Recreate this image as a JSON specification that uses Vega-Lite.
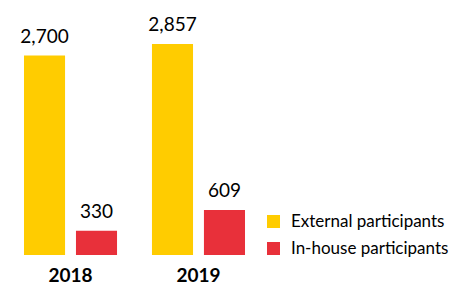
{
  "$schema": "https://vega.github.io/schema/vega-lite/v6.json",
  "autosize": "none",
  "padding": {"left": 0, "top": 0, "right": 182, "bottom": 32},
  "width": 269,
  "height": 255,
  "background": "white",
  "config": {"view": {"stroke": null}, "font": "Lato"},
  "data": {
    "values": [
      {"year": "2018", "type": "External participants", "value": 2700},
      {"year": "2018", "type": "In-house participants", "value": 330},
      {"year": "2019", "type": "External participants", "value": 2857},
      {"year": "2019", "type": "In-house participants", "value": 609}
    ]
  },
  "encoding": {
    "x": {
      "field": "year", "type": "nominal",
      "scale": {"paddingInner": 0.273, "paddingOuter": 0.1875},
      "axis": {"title": null, "domain": false, "ticks": false, "labelAngle": 0, "labelFontSize": 19, "labelFontWeight": "bold", "labelColor": "#000", "labelPadding": 11, "labelFont": "Lato"}
    },
    "xOffset": {"field": "type", "type": "nominal", "scale": {"paddingInner": 0.21, "paddingOuter": 0}},
    "y": {"field": "value", "type": "quantitative", "scale": {"domain": [0, 3453], "nice": false}, "axis": null}
  },
  "layer": [
    {
      "mark": {"type": "bar"},
      "encoding": {
        "color": {
          "field": "type", "type": "nominal",
          "scale": {"domain": ["External participants", "In-house participants"], "range": ["#FFCC00", "#E8303A"]},
          "legend": {"title": null, "orient": "none", "legendX": 265, "legendY": 213, "symbolType": "square", "symbolSize": 169, "symbolStrokeWidth": 0, "labelFontSize": 17, "labelColor": "#000", "rowPadding": 9, "labelOffset": 9, "labelFont": "Lato"}
        }
      }
    },
    {
      "mark": {"type": "text", "baseline": "bottom", "dy": -9, "fontSize": 19, "color": "#000", "font": "Lato"},
      "encoding": {"text": {"field": "value", "type": "quantitative", "format": ","}}
    }
  ]
}
